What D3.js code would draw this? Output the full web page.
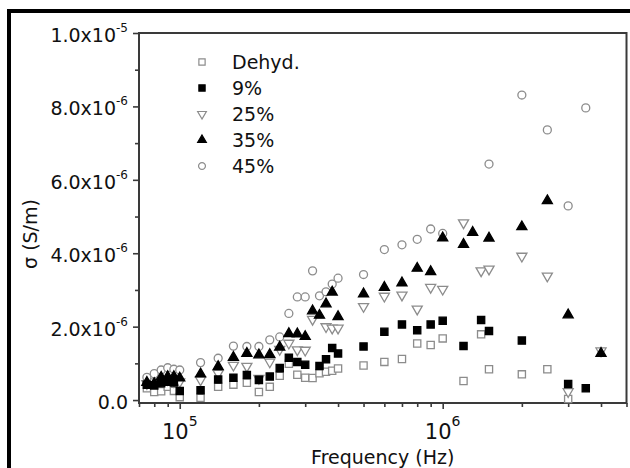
<!DOCTYPE html>
<html>
<head>
<meta charset="utf-8">
<script src="https://cdn.jsdelivr.net/npm/d3@7"></script>
<style>
body{margin:0;background:#fff}
text{font-family:"DejaVu Sans",sans-serif;fill:#111}
</style>
</head>
<body>
<script>
// measured frequencies (Hz), shared by all samples; null = no point at that frequency
var freqs = [7.5e4, 8e4, 8.5e4, 9e4, 9.5e4, 1e5, 1.2e5, 1.4e5, 1.6e5, 1.8e5, 2e5, 2.2e5, 2.4e5, 2.6e5, 2.8e5, 3e5,
             3.2e5, 3.4e5, 3.6e5, 3.8e5, 4e5, 5e5, 6e5, 7e5, 8e5, 9e5, 1e6, 1.2e6, 1.3e6, 1.4e6, 1.5e6,
             2e6, 2.5e6, 3e6, 3.5e6, 4e6];
// conductivity in units of 1e-6 S/m
var dehyd = [0.32,0.22,0.24,0.36,0.25,0.08, 0.06,0.36,0.42,0.47,0.22,0.36,0.66,0.99,0.69,0.61,
             0.60,0.73,0.77,0.80,0.86, 0.94,1.04,1.12,1.54,1.50,1.68, 0.52,null,1.79,0.84,
             0.70,0.84,0.03,null,null];
var w9  = [0.42,0.40,0.46,0.50,0.48,0.25, 0.27,0.56,0.61,0.68,0.55,0.64,0.87,1.15,1.04,0.96,
           null,0.93,1.11,1.42,1.27, 1.46,1.86,2.06,1.90,2.06,2.16, 1.47,null,2.18,1.88,
           1.62,null,0.44,0.32,null];
var w25 = [0.45,0.50,0.52,0.56,0.50,0.50, 0.55,0.73,0.95,0.92,0.59,1.04,1.38,1.55,1.37,1.36,
           2.20,null,2.00,1.96,1.96, 2.55,2.83,2.86,2.48,3.07,3.02, 4.83,null,3.52,3.57,
           3.92,3.38,0.23,null,1.34];
var w35 = [0.48,0.45,0.62,0.64,0.64,0.60, 0.71,0.91,1.16,1.27,1.23,1.24,1.44,1.81,1.80,1.73,
           2.43,2.31,2.62,2.94,2.27, 2.89,3.07,3.19,3.59,3.50,4.42, 4.24,4.57,null,4.41,
           4.72,5.43,2.32,null,1.27];
var w45 = [0.62,0.72,0.82,0.88,0.84,0.82, 1.02,1.14,1.47,1.46,1.46,1.64,1.72,2.36,2.81,2.81,
           3.52,2.84,2.95,3.16,3.32, 3.42,4.10,4.23,4.38,4.66,4.54, null,null,null,6.43,
           8.31,7.36,5.29,7.96,null];

var names = ["Dehyd.", "9%", "25%", "35%", "45%"];
var yTicks = [0, 2, 4, 6, 8, 10];
var yTickText = ["0.0", "2.0x10", "4.0x10", "6.0x10", "8.0x10", "1.0x10"];
var yTickExp = ["", "-6", "-6", "-6", "-6", "-5"];
var xTicks = [1e5, 1e6];
var xTickExp = ["5", "6"];

var W = 630, H = 468;
var margin = {top: 33, right: 3.5, bottom: 65, left: 139};

var svg = d3.select("body").append("svg")
    .attr("width", W)
    .attr("height", H);

// outer thick frame (runs off the right/bottom of the picture)
svg.append("rect")
    .attr("x", 9).attr("y", 11)
    .attr("width", 700).attr("height", 600)
    .attr("fill", "none")
    .attr("stroke", "#000")
    .attr("stroke-width", 4);

var x = d3.scaleLog().domain([7e4, 5e6]).range([margin.left, W - margin.right]),
    y = d3.scaleLinear().domain([-0.08, 10]).range([H - margin.bottom, margin.top]);

//minor ticks
var yMinor = [1, 3, 5, 7, 9];
var xMinor = x.ticks().filter(function(d){ return xTicks.indexOf(d) < 0; });

var axisColor = "#3a3a3a";

var gy = svg.append("g").attr("transform", "translate(" + margin.left + ",0)");
gy.call(d3.axisLeft(y).tickValues(yTicks).tickSize(6).tickFormat(""));
gy.append("g").call(d3.axisLeft(y).tickValues(yMinor).tickSize(4).tickFormat(""));
gy.selectAll(".domain").remove();
gy.selectAll("line").attr("stroke", axisColor).attr("stroke-width", 1.6);

var gx = svg.append("g").attr("transform", "translate(0," + (H - margin.bottom) + ")");
gx.call(d3.axisBottom(x).tickValues(xTicks).tickSize(6).tickFormat(""));
gx.append("g").call(d3.axisBottom(x).tickValues(xMinor).tickSize(4).tickFormat(""));
gx.selectAll(".domain").remove();
gx.selectAll("line").attr("stroke", axisColor).attr("stroke-width", 1.6);

//plot frame
svg.append("rect")
    .attr("x", margin.left).attr("y", margin.top)
    .attr("width", W - margin.right - margin.left)
    .attr("height", H - margin.bottom - margin.top)
    .attr("fill", "none")
    .attr("stroke", axisColor)
    .attr("stroke-width", 2);

//y tick labels with exponent
var yl = svg.selectAll(".ylab")
    .data(yTicks)
    .enter().append("text")
      .attr("class", "ylab")
      .attr("x", margin.left - 11)
      .attr("y", function(d) { return y(d) + 9; })
      .attr("text-anchor", "end")
      .style("font-size", "19px");
yl.append("tspan").text(function(d, i) { return yTickText[i]; });
yl.append("tspan")
    .attr("dy", -10)
    .style("font-size", "12px")
    .text(function(d, i) { return yTickExp[i]; });

//x tick labels 10^n
var xl = svg.selectAll(".xlab")
    .data(xTicks)
    .enter().append("text")
      .attr("class", "xlab")
      .attr("x", function(d) { return x(d); })
      .attr("y", 439)
      .attr("text-anchor", "middle")
      .style("font-size", "21px");
xl.append("tspan").text("10");
xl.append("tspan")
    .attr("dy", -13)
    .style("font-size", "14px")
    .text(function(d, i) { return xTickExp[i]; });

//axis titles
svg.append("text")
    .attr("x", (margin.left + W - margin.right) / 2)
    .attr("y", 464)
    .attr("text-anchor", "middle")
    .style("font-size", "19px")
    .text("Frequency (Hz)");

svg.append("text")
    .attr("transform", "translate(37,234) rotate(-90)")
    .attr("text-anchor", "middle")
    .style("font-size", "19px")
    .text("σ (S/m)");

//symbols per series
var gray = "#8c8c8c";
var styles = [
  {type: d3.symbolSquare, size: 52, fill: "#fff", stroke: gray, rot: 0},
  {type: d3.symbolSquare, size: 52, fill: "#000", stroke: "#000", rot: 0},
  {type: d3.symbolTriangle, size: 44, fill: "#fff", stroke: gray, rot: 180},
  {type: d3.symbolTriangle, size: 44, fill: "#000", stroke: "#000", rot: 0},
  {type: d3.symbolCircle, size: 50, fill: "#fff", stroke: gray, rot: 0}
];
var series = [dehyd, w9, w25, w35, w45];
var drawOrder = [0, 2, 4, 1, 3];

drawOrder.forEach(function(s) {
  var st = styles[s];
  var pts = freqs.map(function(f, i) { return [f, series[s][i]]; })
                 .filter(function(p) { return p[1] !== null; });
  svg.append("g").selectAll("path")
    .data(pts)
    .enter().append("path")
      .attr("d", d3.symbol().type(st.type).size(st.size))
      .attr("transform", function(d) {
        return "translate(" + x(d[0]) + "," + y(d[1]) + ") rotate(" + st.rot + ")";
      })
      .attr("fill", st.fill)
      .attr("stroke", st.stroke)
      .attr("stroke-width", 1.3);
});

//legend
var leg = svg.append("g").attr("transform", "translate(202,62)");
leg.selectAll(".legsym")
    .data(styles)
    .enter().append("path")
      .attr("class", "legsym")
      .attr("d", function(d) { return d3.symbol().type(d.type).size(d.size * 0.75)(); })
      .attr("transform", function(d, i) { return "translate(0," + (i * 26) + ") rotate(" + d.rot + ")"; })
      .attr("fill", function(d) { return d.fill; })
      .attr("stroke", function(d) { return d.stroke; })
      .attr("stroke-width", 1.2);
leg.selectAll(".legtext")
    .data(names)
    .enter().append("text")
      .attr("class", "legtext")
      .attr("x", 30)
      .attr("y", function(d, i) { return i * 26 + 7; })
      .style("font-size", "19px")
      .text(function(d) { return d; });
</script>
</body>
</html>
